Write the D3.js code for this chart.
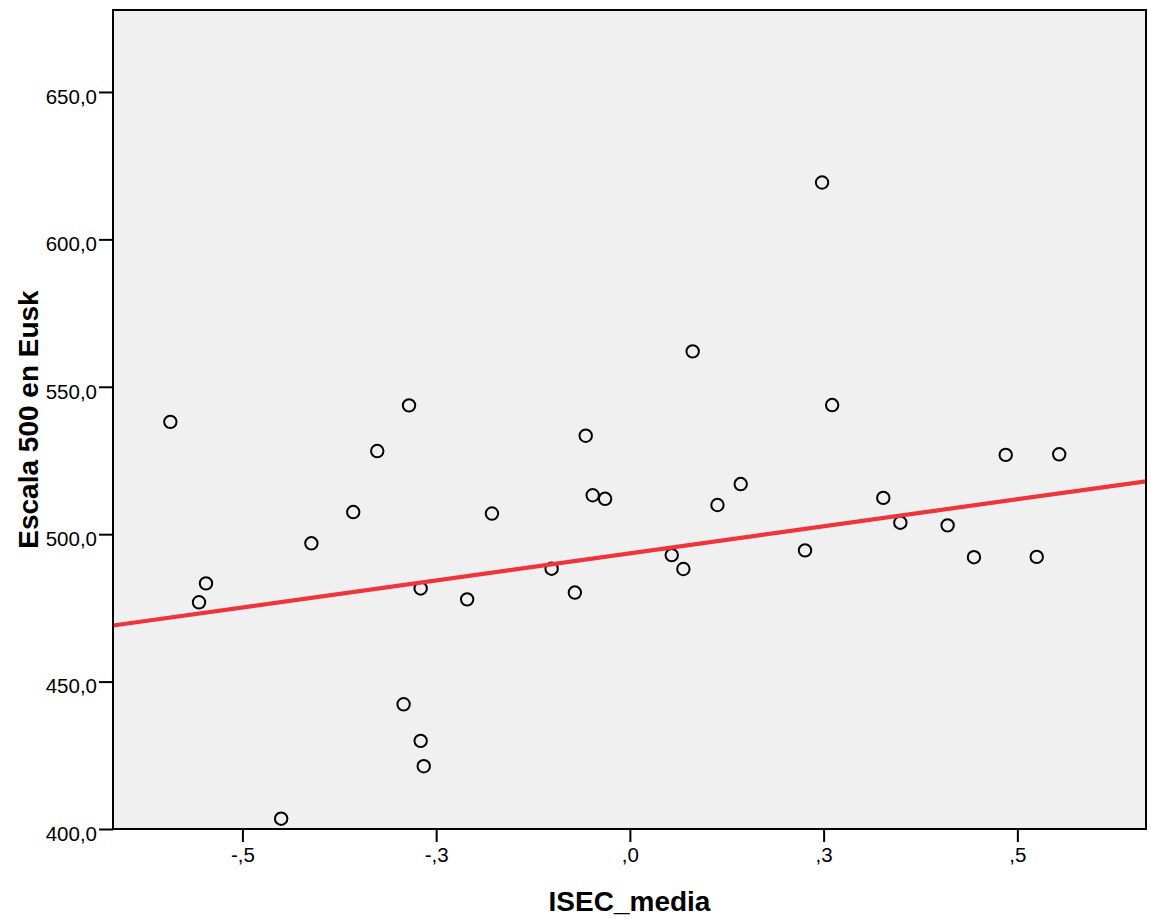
<!DOCTYPE html>
<html>
<head>
<meta charset="utf-8">
<script src="https://cdn.jsdelivr.net/npm/d3@7"></script>
<style>
  html, body { margin: 0; padding: 0; background: #ffffff; }
  svg { display: block; }
  text { font-family: "Liberation Sans", Arial, sans-serif; }
</style>
</head>
<body>
<svg id="chart" width="1151" height="918"></svg>
<script>
// ---- data ----
const isecMedia = [-0.593, -0.556, -0.547, -0.450, -0.411, -0.357, -0.326, -0.292, -0.285, -0.270,
                   -0.270, -0.266, -0.210, -0.178, -0.101, -0.071, -0.057, -0.048, -0.032, 0.054,
                   0.069, 0.081, 0.113, 0.143, 0.226, 0.248, 0.261, 0.327, 0.349, 0.410,
                   0.444, 0.485, 0.525, 0.554];
const escala500 = [538.1, 476.9, 483.3, 403.5, 496.9, 507.5, 528.2, 442.3, 543.7, 481.6,
                   429.9, 421.3, 477.9, 507.0, 488.3, 480.2, 533.4, 513.2, 512.0, 492.9,
                   488.2, 562.0, 509.9, 517.0, 494.5, 619.3, 543.8, 512.3, 503.9, 503.0,
                   492.2, 526.9, 492.3, 527.1];
const fitIntercept = 493.5;
const fitSlope = 36.7;
const xDomain = [-0.667, 0.666];
const yDomain = [400, 677.8];
const xTickValues = [-0.5, -0.25, 0, 0.25, 0.5];
const xTickLabels = ["-,5", "-,3", ",0", ",3", ",5"];
const yTickValues = [400, 450, 500, 550, 600, 650];
const yTickLabels = ["400,0", "450,0", "500,0", "550,0", "600,0", "650,0"];
const xTitle = "ISEC_media";
const yTitle = "Escala 500 en Eusk";

// ---- layout ----
const L = 113, R = 1146, T = 10, B = 829;
const svg = d3.select("#chart");

const x = d3.scaleLinear().domain(xDomain).range([L, R]);
const y = d3.scaleLinear().domain(yDomain).range([B, T]);

// plot background
svg.append("rect")
  .attr("x", L).attr("y", T).attr("width", R - L).attr("height", B - T)
  .attr("fill", "#f0f0f0");

svg.append("defs").append("clipPath").attr("id", "plotclip")
  .append("rect").attr("x", L).attr("y", T).attr("width", R - L).attr("height", B - T);

// points
const pts = isecMedia.map((v, i) => ({ x: v, y: escala500[i] }));
svg.append("g").selectAll("circle").data(pts).join("circle")
  .attr("cx", d => x(d.x)).attr("cy", d => y(d.y))
  .attr("r", 6.2)
  .attr("fill", "none")
  .attr("stroke", "#000")
  .attr("stroke-width", 2);

// fit line
const fitPts = xDomain.map(v => ({ x: v, y: fitIntercept + fitSlope * v }));
svg.append("path")
  .datum(fitPts)
  .attr("clip-path", "url(#plotclip)")
  .attr("d", d3.line().x(d => x(d.x)).y(d => y(d.y)))
  .attr("fill", "none")
  .attr("stroke", "#f0343c")
  .attr("stroke-width", 4.2);

// frame
svg.append("rect")
  .attr("x", L).attr("y", T).attr("width", R - L).attr("height", B - T)
  .attr("fill", "none").attr("stroke", "#000").attr("stroke-width", 2);

// axes
const yAxis = d3.axisLeft(y)
  .tickValues(yTickValues)
  .tickFormat((d, i) => yTickLabels[i])
  .tickSize(14).tickPadding(2);
const gy = svg.append("g").attr("transform", `translate(${L},0)`).call(yAxis);
gy.select(".domain").remove();
gy.selectAll(".tick line").attr("stroke", "#000").attr("stroke-width", 2);
gy.selectAll(".tick text")
  .attr("font-size", 20.5).attr("fill", "#000")
  .attr("font-family", "'Liberation Sans', Arial, sans-serif")
  .attr("dy", "0.55em");

const xAxis = d3.axisBottom(x)
  .tickValues(xTickValues)
  .tickFormat((d, i) => xTickLabels[i])
  .tickSize(13).tickPadding(5);
const gx = svg.append("g").attr("transform", `translate(0,${B})`).call(xAxis);
gx.select(".domain").remove();
gx.selectAll(".tick line").attr("stroke", "#000").attr("stroke-width", 2);
gx.selectAll(".tick text")
  .attr("font-size", 20.5).attr("fill", "#000")
  .attr("font-family", "'Liberation Sans', Arial, sans-serif");

// titles
svg.append("text")
  .attr("x", (L + R) / 2).attr("y", 911)
  .attr("text-anchor", "middle")
  .attr("font-size", 28).attr("font-weight", "bold").attr("fill", "#000")
  .text(xTitle);

svg.append("text")
  .attr("transform", `translate(38,${(T + B) / 2}) rotate(-90)`)
  .attr("text-anchor", "middle")
  .attr("font-size", 28).attr("font-weight", "bold").attr("fill", "#000")
  .text(yTitle);
</script>
</body>
</html>
